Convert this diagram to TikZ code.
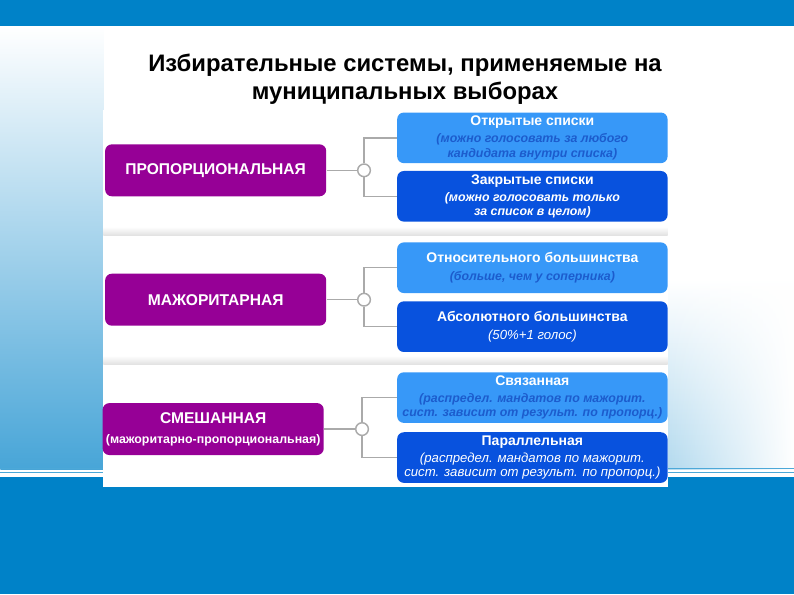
\documentclass[tikz,border=0pt]{standalone}
\usepackage{fontspec}
\setmainfont{Liberation Sans}
\usepackage{xcolor}
\definecolor{SlideBlue}{RGB}{0, 130, 200}
\definecolor{SysPurple}{RGB}{150, 0, 150}
\definecolor{LightBox}{RGB}{55, 152, 248}
\definecolor{DarkBox}{RGB}{8, 82, 222}
\definecolor{NoteBlue}{RGB}{28, 92, 205}
\definecolor{LinkGray}{RGB}{170, 170, 170}
\usetikzlibrary{positioning, shadings, fadings}
\newcommand{\notebf}[1]{{\bfseries\itshape\fontsize{9.3}{10.5}\selectfont #1}}
\newcommand{\noteit}[1]{{\mdseries\itshape\fontsize{9.9}{10.5}\selectfont #1}}
\newcommand{\notelight}[1]{{\color{NoteBlue}\notebf{#1}}}

\begin{document}
\begin{tikzpicture}[x=0.75pt, y=-0.75pt,
            sys/.style={fill=SysPurple, text=white, rounded corners=5pt, minimum width=166pt, minimum height=39pt, align=center, font=\bfseries\fontsize{11.7}{14}\selectfont, inner sep=0pt},
            kind/.style={rounded corners=5pt, minimum width=203pt, minimum height=38pt, align=center, inner sep=0pt, font=\bfseries\fontsize{10.5}{10.8}\selectfont},
            light/.style={kind, fill=LightBox, text=white},
            dark/.style={kind, fill=DarkBox, text=white},
            joint/.style={circle, draw=LinkGray, line width=1.1pt, fill=white, minimum size=9.5pt, inner sep=0pt},
            link/.style={draw=LinkGray, line width=1.1pt}
        ]

        % Slide background
        \fill[white] (0,0) rectangle (794,595);
        \shade[top color=white, bottom color=SlideBlue!72] (0,26) rectangle (103,470);
        \shade[top color=white, bottom color=SlideBlue!30, path fading=east] (668,280) rectangle (794,470);
        \fill[SlideBlue] (0,0) rectangle (794,26);
        \draw[SlideBlue!70, line width=0.6pt] (0,469) -- (794,469);
        \draw[SlideBlue!70, line width=0.6pt] (0,472.5) -- (794,472.5);
        \fill[SlideBlue] (0,477) rectangle (794,595);

        % Title
        \node[font=\bfseries\fontsize{17.9}{21}\selectfont, align=center] (title) at (405,79) {Избирательные системы, применяемые на\\муниципальных выборах};

        % The panel
        \fill[white] (103,110) rectangle (668,487);
        \shade[top color=white, bottom color=black!12] (103,227) rectangle (668,236);
        \shade[top color=white, bottom color=black!12] (103,356) rectangle (668,365);

        % Systems
        \node[sys] (prop) at (215.5,170.5) {ПРОПОРЦИОНАЛЬНАЯ};
        \node[sys] (major) at (215.5,300) {МАЖОРИТАРНАЯ};
        \node[sys] (mixed) at (213,429.5) {СМЕШАННАЯ\\[1pt]{\fontsize{9.3}{11}\selectfont(мажоритарно-пропорциональная)}};

        % Kinds
        \node[light] (open) at (532.5,138) {Открытые списки\\[2pt]\notelight{(можно голосовать за любого}\\\notelight{кандидата внутри списка)}};
        \node[dark] (closed) at (532.5,196.5) {Закрытые списки\\[2pt]\notebf{(можно голосовать только}\\\notebf{за список в целом)}};
        \node[light] (rel) at (532.5,268) {Относительного большинства\\[3pt]\notelight{(больше, чем у соперника)}};
        \node[dark] (abs) at (532.5,327) {Абсолютного большинства\\[3pt]\noteit{(50\%+1 голос)}};
        \node[light] (linked) at (532.5,398) {Связанная\\[2pt]\notelight{(распредел. мандатов по мажорит.}\\\notelight{сист. зависит от результ. по пропорц.)}};
        \node[dark] (parallel) at (532.5,458) {Параллельная\\[2pt]\noteit{(распредел. мандатов по мажорит.}\\\noteit{сист. зависит от результ. по пропорц.)}};

        % Joints
        \node[joint] (c1) at (364,170.5) {};
        \node[joint] (c2) at (364,300) {};
        \node[joint] (c3) at (362,429.5) {};

        \draw[link] (prop) -- (c1);
        \draw[link] (c1.north) |- (open.west);
        \draw[link] (c1.south) |- (closed.west);
        \draw[link] (major) -- (c2);
        \draw[link] (c2.north) |- (rel.west);
        \draw[link] (c2.south) |- (abs.west);
        \draw[link] (mixed) -- (c3);
        \draw[link] (c3.north) |- (linked.west);
        \draw[link] (c3.south) |- (parallel.west);

        \end{tikzpicture}
\end{document}
